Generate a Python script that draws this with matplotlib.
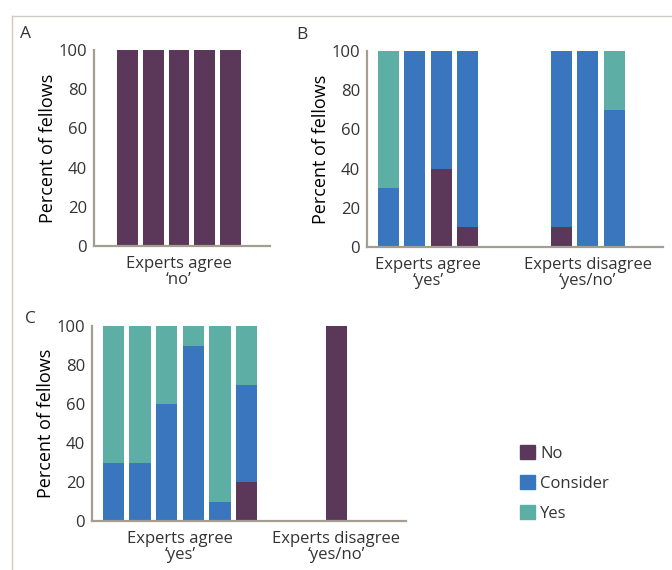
import numpy as np
import matplotlib
matplotlib.use("Agg")
from matplotlib import pyplot as plt
from matplotlib.patches import Patch
from matplotlib.lines import Line2D

plt.rcParams['font.family'] = ['Open Sans', 'DejaVu Sans']
plt.rcParams['font.size'] = 12
plt.rcParams['text.color'] = '#333333'

# colours
c_no = '#5B3759'
c_consider = '#3A76BE'
c_yes = '#5DAEA5'
c_axis = '#A39D92'

# panel A: experts agree 'no' (5 bars)
a_no = [100, 100, 100, 100, 100]
a_consider = [0, 0, 0, 0, 0]
a_yes = [0, 0, 0, 0, 0]

# panel B: 4 agree 'yes', 3 disagree
b_no = [0, 0, 40, 10, 10, 0, 0]
b_consider = [30, 100, 60, 90, 90, 100, 70]
b_yes = [70, 0, 0, 0, 0, 0, 30]
b_groups = [4, 3]

# panel C: 6 agree 'yes', 1 disagree
c_no_v = [0, 0, 0, 0, 0, 20, 100]
c_consider_v = [30, 30, 60, 90, 10, 50, 0]
c_yes_v = [70, 70, 40, 10, 90, 30, 0]
c_groups = [6, 1]

yticks = [0, 20, 40, 60, 80, 100]
lbl_agree_no = 'Experts agree\n\u2018no\u2019'
lbl_agree_yes = 'Experts agree\n\u2018yes\u2019'
lbl_disagree = 'Experts disagree\n\u2018yes/no\u2019'
legend_labels = ['No', 'Consider', 'Yes']

FS = 12
W, H = 672, 570
fig = plt.figure(figsize=(W / 100, H / 100), dpi=100)


def px_axes(l, t, r, b):
    return fig.add_axes([l / W, 1 - b / H, (r - l) / W, (b - t) / H])


def draw(ax, no, cons, yes, pos, xlim, ticks, labels):
    no = np.array(no); cons = np.array(cons); yes = np.array(yes)
    w = 0.8
    ax.bar(pos, no, w, color=c_no, linewidth=0)
    ax.bar(pos, cons, w, bottom=no, color=c_consider, linewidth=0)
    ax.bar(pos, yes, w, bottom=no + cons, color=c_yes, linewidth=0)
    ax.set_xlim(*xlim)
    ax.set_ylim(0, 100)
    ax.set_yticks(yticks)
    ax.set_xticks(ticks)
    ax.set_xticklabels(labels, linespacing=1.05)
    for s in ['top', 'right']:
        ax.spines[s].set_visible(False)
    for s in ['left', 'bottom']:
        ax.spines[s].set_color(c_axis)
        ax.spines[s].set_linewidth(1.6)
    ax.tick_params(axis='both', length=0, labelsize=FS, colors='#333333')
    ax.tick_params(axis='y', pad=5)
    ax.tick_params(axis='x', pad=7)
    ax.set_ylabel('Percent of fellows', fontsize=13, labelpad=1)


def group_pos(groups, gap):
    p1 = np.arange(groups[0], dtype=float)
    p2 = groups[0] - 1 + gap + np.arange(groups[1], dtype=float)
    return p1, p2


# A
axA = px_axes(94, 50, 270, 246)
posA = np.arange(len(a_no))
draw(axA, a_no, a_consider, a_yes, posA, (-1.3, 5.53), [posA.mean()], [lbl_agree_no])

# B
axB = px_axes(367, 51, 663, 247)
p1, p2 = group_pos(b_groups, 3.57)
posB = np.concatenate([p1, p2])
draw(axB, b_no, b_consider, b_yes, posB, (-0.82, 10.43),
     [p1.mean(), p2.mean()], [lbl_agree_yes, lbl_disagree])

# C
axC = px_axes(92, 326, 406, 521)
q1, q2 = group_pos(c_groups, 3.38)
posC = np.concatenate([q1, q2])
draw(axC, c_no_v, c_consider_v, c_yes_v, posC, (-0.81, 11.0),
     [q1.mean(), q2.mean()], [lbl_agree_yes, lbl_disagree])

# panel letters
fig.text(25 / W, 1 - 34 / H, 'A', fontsize=12.5, ha='center', va='center')
fig.text(302 / W, 1 - 35 / H, 'B', fontsize=12.5, ha='center', va='center')
fig.text(30 / W, 1 - 319 / H, 'C', fontsize=12.5, ha='center', va='center')

# legend
handles = [Patch(color=c) for c in [c_no, c_consider, c_yes]]
fig.legend(handles, legend_labels, loc='upper left', bbox_to_anchor=(512 / W, 1 - 437 / H),
           frameon=False, fontsize=FS, handlelength=0.9, handleheight=0.9,
           handletextpad=0.3, labelspacing=0.8, borderpad=0)

# light frame round the figure (right and bottom cut off)
fig.add_artist(Line2D([12 / W, 1], [1 - 16 / H, 1 - 16 / H], color='#CFCBC2', lw=1))
fig.add_artist(Line2D([12 / W, 12 / W], [0, 1 - 16 / H], color='#CFCBC2', lw=1))

fig.savefig('out.png', dpi=100)
